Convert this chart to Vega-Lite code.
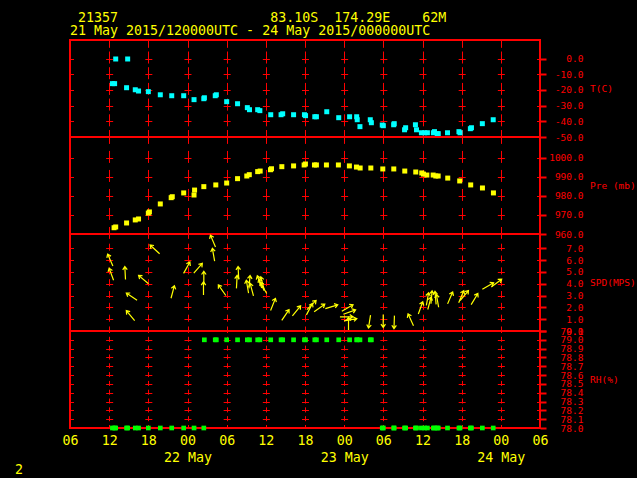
{
"$schema": "https://vega.github.io/schema/vega-lite/v6.json",
"background": "#000000",
"padding": {"left": 14, "top": 10, "right": 0, "bottom": 0},
"bounds": "flush",
"spacing": 0,
"datasets": {
"temp": [
{"t":"2015-05-21T13:00:00Z","T":-0.3,"rh":78},
{"t":"2015-05-21T14:50:00Z","T":-0.3,"rh":78},
{"t":"2015-05-21T12:30:00Z","T":-16.0,"rh":78},
{"t":"2015-05-21T12:50:00Z","T":-16.0,"rh":78},
{"t":"2015-05-21T14:40:00Z","T":-18.6,"rh":78},
{"t":"2015-05-21T16:00:00Z","T":-19.9,"rh":78},
{"t":"2015-05-21T16:30:00Z","T":-20.7,"rh":78},
{"t":"2015-05-21T18:00:00Z","T":-21.1,"rh":78},
{"t":"2015-05-21T19:50:00Z","T":-23.1,"rh":78},
{"t":"2015-05-21T21:35:00Z","T":-23.7,"rh":78},
{"t":"2015-05-21T23:25:00Z","T":-23.7,"rh":78},
{"t":"2015-05-22T01:00:00Z","T":-26.2,"rh":78},
{"t":"2015-05-22T02:30:00Z","T":-25.6,"rh":78},
{"t":"2015-05-22T02:35:00Z","T":-25.0,"rh":79},
{"t":"2015-05-22T04:15:00Z","T":-23.7,"rh":79},
{"t":"2015-05-22T04:25:00Z","T":-23.1,"rh":79},
{"t":"2015-05-22T06:00:00Z","T":-27.5,"rh":79},
{"t":"2015-05-22T07:40:00Z","T":-28.8,"rh":79},
{"t":"2015-05-22T09:10:00Z","T":-31.3,"rh":79},
{"t":"2015-05-22T09:30:00Z","T":-32.6,"rh":79},
{"t":"2015-05-22T10:45:00Z","T":-32.6,"rh":79},
{"t":"2015-05-22T11:05:00Z","T":-33.2,"rh":79},
{"t":"2015-05-22T12:45:00Z","T":-35.8,"rh":79},
{"t":"2015-05-22T14:20:00Z","T":-35.8,"rh":79},
{"t":"2015-05-22T14:35:00Z","T":-35.2,"rh":79},
{"t":"2015-05-22T16:15:00Z","T":-35.8,"rh":79},
{"t":"2015-05-22T17:55:00Z","T":-35.8,"rh":79},
{"t":"2015-05-22T18:05:00Z","T":-36.4,"rh":79},
{"t":"2015-05-22T19:30:00Z","T":-37.1,"rh":79},
{"t":"2015-05-22T19:45:00Z","T":-37.1,"rh":79},
{"t":"2015-05-22T21:20:00Z","T":-33.9,"rh":79},
{"t":"2015-05-22T23:10:00Z","T":-37.7,"rh":79},
{"t":"2015-05-23T00:50:00Z","T":-37.1,"rh":79},
{"t":"2015-05-23T01:55:00Z","T":-37.1,"rh":79},
{"t":"2015-05-23T02:00:00Z","T":-39.0,"rh":79},
{"t":"2015-05-23T02:25:00Z","T":-43.4,"rh":79},
{"t":"2015-05-23T04:00:00Z","T":-39.0,"rh":79},
{"t":"2015-05-23T04:10:00Z","T":-40.9,"rh":79},
{"t":"2015-05-23T05:50:00Z","T":-42.4,"rh":78},
{"t":"2015-05-23T06:00:00Z","T":-42.8,"rh":78},
{"t":"2015-05-23T07:35:00Z","T":-42.2,"rh":78},
{"t":"2015-05-23T07:40:00Z","T":-41.5,"rh":78},
{"t":"2015-05-23T09:15:00Z","T":-45.4,"rh":78},
{"t":"2015-05-23T09:25:00Z","T":-44.1,"rh":78},
{"t":"2015-05-23T10:55:00Z","T":-42.2,"rh":78},
{"t":"2015-05-23T11:05:00Z","T":-45.4,"rh":78},
{"t":"2015-05-23T11:50:00Z","T":-47.3,"rh":78},
{"t":"2015-05-23T12:20:00Z","T":-47.3,"rh":78},
{"t":"2015-05-23T12:45:00Z","T":-47.3,"rh":78},
{"t":"2015-05-23T13:40:00Z","T":-47.3,"rh":78},
{"t":"2015-05-23T13:50:00Z","T":-46.6,"rh":78},
{"t":"2015-05-23T14:15:00Z","T":-47.9,"rh":78},
{"t":"2015-05-23T14:25:00Z","T":-47.9,"rh":78},
{"t":"2015-05-23T15:50:00Z","T":-47.3,"rh":78},
{"t":"2015-05-23T17:35:00Z","T":-46.6,"rh":78},
{"t":"2015-05-23T17:45:00Z","T":-47.3,"rh":78},
{"t":"2015-05-23T19:20:00Z","T":-44.7,"rh":78},
{"t":"2015-05-23T19:30:00Z","T":-44.1,"rh":78},
{"t":"2015-05-23T21:10:00Z","T":-41.5,"rh":78},
{"t":"2015-05-23T22:50:00Z","T":-39.0,"rh":78}
],
"pres": [
{"t":"2015-05-21T12:45:00Z","P":963.3},
{"t":"2015-05-21T13:00:00Z","P":963.7},
{"t":"2015-05-21T14:40:00Z","P":965.8},
{"t":"2015-05-21T16:00:00Z","P":967.4},
{"t":"2015-05-21T16:30:00Z","P":967.9},
{"t":"2015-05-21T18:00:00Z","P":971.0},
{"t":"2015-05-21T18:10:00Z","P":971.6},
{"t":"2015-05-21T19:50:00Z","P":975.8},
{"t":"2015-05-21T21:30:00Z","P":979.1},
{"t":"2015-05-21T21:40:00Z","P":979.6},
{"t":"2015-05-21T23:25:00Z","P":981.6},
{"t":"2015-05-22T01:05:00Z","P":983.1},
{"t":"2015-05-22T01:00:00Z","P":980.5},
{"t":"2015-05-22T02:30:00Z","P":984.9},
{"t":"2015-05-22T04:20:00Z","P":985.8},
{"t":"2015-05-22T06:00:00Z","P":986.8},
{"t":"2015-05-22T07:40:00Z","P":989.1},
{"t":"2015-05-22T09:05:00Z","P":990.5},
{"t":"2015-05-22T09:28:00Z","P":991.2},
{"t":"2015-05-22T10:45:00Z","P":992.8},
{"t":"2015-05-22T11:08:00Z","P":993.1},
{"t":"2015-05-22T12:43:00Z","P":993.8},
{"t":"2015-05-22T12:52:00Z","P":994.3},
{"t":"2015-05-22T14:27:00Z","P":995.4},
{"t":"2015-05-22T16:15:00Z","P":995.8},
{"t":"2015-05-22T17:52:00Z","P":996.3},
{"t":"2015-05-22T18:04:00Z","P":996.8},
{"t":"2015-05-22T19:27:00Z","P":996.3},
{"t":"2015-05-22T19:45:00Z","P":996.3},
{"t":"2015-05-22T21:17:00Z","P":996.3},
{"t":"2015-05-22T23:07:00Z","P":996.3},
{"t":"2015-05-23T00:48:00Z","P":995.8},
{"t":"2015-05-23T01:53:00Z","P":995.2},
{"t":"2015-05-23T02:27:00Z","P":994.7},
{"t":"2015-05-23T04:05:00Z","P":994.7},
{"t":"2015-05-23T05:55:00Z","P":994.2},
{"t":"2015-05-23T07:36:00Z","P":994.2},
{"t":"2015-05-23T09:17:00Z","P":993.1},
{"t":"2015-05-23T10:58:00Z","P":992.6},
{"t":"2015-05-23T11:53:00Z","P":992.1},
{"t":"2015-05-23T12:09:00Z","P":991.5},
{"t":"2015-05-23T12:40:00Z","P":991.0},
{"t":"2015-05-23T13:38:00Z","P":991.0},
{"t":"2015-05-23T14:02:00Z","P":990.5},
{"t":"2015-05-23T14:24:00Z","P":990.5},
{"t":"2015-05-23T15:52:00Z","P":989.4},
{"t":"2015-05-23T17:42:00Z","P":987.9},
{"t":"2015-05-23T19:23:00Z","P":985.8},
{"t":"2015-05-23T21:11:00Z","P":984.2},
{"t":"2015-05-23T22:52:00Z","P":981.6}
],
"wind": [
{"t":"2015-05-21T12:10:00Z","spd":6.0,"dir":336},
{"t":"2015-05-21T12:20:00Z","spd":4.8,"dir":340},
{"t":"2015-05-21T14:27:00Z","spd":4.9,"dir":357},
{"t":"2015-05-21T15:27:00Z","spd":2.9,"dir":304},
{"t":"2015-05-21T15:16:00Z","spd":1.3,"dir":320},
{"t":"2015-05-21T17:16:00Z","spd":4.35,"dir":310},
{"t":"2015-05-21T19:00:00Z","spd":6.9,"dir":313},
{"t":"2015-05-21T21:44:00Z","spd":3.3,"dir":15},
{"t":"2015-05-21T23:53:00Z","spd":5.35,"dir":29},
{"t":"2015-05-22T01:37:00Z","spd":5.3,"dir":41},
{"t":"2015-05-22T02:30:00Z","spd":4.5,"dir":0},
{"t":"2015-05-22T02:27:00Z","spd":3.6,"dir":0},
{"t":"2015-05-22T03:54:00Z","spd":7.6,"dir":337},
{"t":"2015-05-22T03:59:00Z","spd":6.45,"dir":350},
{"t":"2015-05-22T05:18:00Z","spd":3.45,"dir":325},
{"t":"2015-05-22T07:48:00Z","spd":4.9,"dir":357},
{"t":"2015-05-22T07:33:00Z","spd":4.15,"dir":3},
{"t":"2015-05-22T09:11:00Z","spd":3.75,"dir":350},
{"t":"2015-05-22T09:51:00Z","spd":3.5,"dir":345},
{"t":"2015-05-22T09:30:00Z","spd":4.15,"dir":5},
{"t":"2015-05-22T11:02:00Z","spd":4.15,"dir":340},
{"t":"2015-05-22T11:20:00Z","spd":3.9,"dir":335},
{"t":"2015-05-22T11:38:00Z","spd":3.65,"dir":330},
{"t":"2015-05-22T11:29:00Z","spd":4.05,"dir":345},
{"t":"2015-05-22T13:06:00Z","spd":2.25,"dir":22},
{"t":"2015-05-22T15:00:00Z","spd":1.35,"dir":34},
{"t":"2015-05-22T16:42:00Z","spd":1.7,"dir":39},
{"t":"2015-05-22T18:41:00Z","spd":1.85,"dir":28},
{"t":"2015-05-22T19:00:00Z","spd":2.2,"dir":45},
{"t":"2015-05-22T20:13:00Z","spd":1.95,"dir":55},
{"t":"2015-05-22T22:04:00Z","spd":2.05,"dir":73},
{"t":"2015-05-23T00:30:00Z","spd":1.95,"dir":60},
{"t":"2015-05-23T00:49:00Z","spd":1.6,"dir":70},
{"t":"2015-05-23T00:21:00Z","spd":1.2,"dir":90},
{"t":"2015-05-23T00:58:00Z","spd":0.95,"dir":80},
{"t":"2015-05-23T00:40:00Z","spd":0.6,"dir":0},
{"t":"2015-05-23T03:53:00Z","spd":0.8,"dir":189},
{"t":"2015-05-23T05:59:00Z","spd":0.85,"dir":180},
{"t":"2015-05-23T07:40:00Z","spd":0.75,"dir":182},
{"t":"2015-05-23T10:12:00Z","spd":0.95,"dir":335},
{"t":"2015-05-23T11:42:00Z","spd":1.95,"dir":20},
{"t":"2015-05-23T12:46:00Z","spd":2.7,"dir":10},
{"t":"2015-05-23T13:23:00Z","spd":2.85,"dir":5},
{"t":"2015-05-23T14:00:00Z","spd":2.8,"dir":355},
{"t":"2015-05-23T13:04:00Z","spd":2.35,"dir":15},
{"t":"2015-05-23T14:18:00Z","spd":2.55,"dir":350},
{"t":"2015-05-23T16:14:00Z","spd":2.8,"dir":23},
{"t":"2015-05-23T17:56:00Z","spd":2.9,"dir":23},
{"t":"2015-05-23T18:24:00Z","spd":3.0,"dir":40},
{"t":"2015-05-23T19:58:00Z","spd":2.7,"dir":31},
{"t":"2015-05-23T22:02:00Z","spd":3.8,"dir":60},
{"t":"2015-05-23T23:20:00Z","spd":4.05,"dir":53}
]
},
"config": {
"view": {"stroke": "#FF0000", "strokeWidth": 2},
"axis": {"labelFont": "DejaVu Sans Mono", "titleFont": "DejaVu Sans Mono", "labelColor": "#FF0000", "titleColor": "#FF0000", "tickColor": "#FF0000", "gridColor": "#FF0000", "gridOpacity": 1, "gridWidth": 1, "labelFontSize": 9.5, "titleFontSize": 9.5, "titleFontWeight": "normal", "labelOverlap": false, "labelFlush": false}
},
"vconcat": [
{
"width": 470, "height": 97,
"title": {"text": ["\u200b\u00a021357\u00a0\u00a0\u00a0\u00a0\u00a0\u00a0\u00a0\u00a0\u00a0\u00a0\u00a0\u00a0\u00a0\u00a0\u00a0\u00a0\u00a0\u00a0\u00a083.10S\u00a0\u00a0174.29E\u00a0\u00a0\u00a0\u00a062M", "21 May 2015/120000UTC - 24 May 2015/000000UTC"], "anchor": "start", "frame": "group", "orient": "top", "baseline": "bottom", "offset": -11, "font": "DejaVu Sans Mono", "fontSize": 13.3, "fontWeight": "normal", "color": "#FFFF00", "lineHeight": 12.5},
"data": {"name": "temp"},
"mark": {"type": "square", "size": 25, "color": "#00FFFF", "opacity": 1},
"encoding": {
"x": {"field": "t", "type": "temporal", "scale": {"type": "utc", "domain": [{"year":2015,"month":5,"date":21,"hours":6,"utc":true},{"year":2015,"month":5,"date":24,"hours":6,"utc":true}]},
"axis": {"values": [{"year":2015,"month":5,"date":21,"hours":6,"utc":true},{"year":2015,"month":5,"date":21,"hours":12,"utc":true},{"year":2015,"month":5,"date":21,"hours":18,"utc":true},{"year":2015,"month":5,"date":22,"hours":0,"utc":true},{"year":2015,"month":5,"date":22,"hours":6,"utc":true},{"year":2015,"month":5,"date":22,"hours":12,"utc":true},{"year":2015,"month":5,"date":22,"hours":18,"utc":true},{"year":2015,"month":5,"date":23,"hours":0,"utc":true},{"year":2015,"month":5,"date":23,"hours":6,"utc":true},{"year":2015,"month":5,"date":23,"hours":12,"utc":true},{"year":2015,"month":5,"date":23,"hours":18,"utc":true},{"year":2015,"month":5,"date":24,"hours":0,"utc":true},{"year":2015,"month":5,"date":24,"hours":6,"utc":true}], "labels": false, "ticks": false, "domain": false, "grid": true, "gridDash": [12, 3.696], "gridDashOffset": 4.676, "title": null}},
"y": {"field": "T", "type": "quantitative", "scale": {"domain": [-50, 11.8], "nice": false, "zero": false},
"axis": {"orient": "right", "values": [-50,-40,-30,-20,-10,0], "grid": true, "gridDash": [3.5, 32.167, 3.5, 0], "domain": false, "tickSize": 6, "tickWidth": 2, "labelAlign": "right", "labelBaseline": "middle", "labelPadding": 37, "labelExpr": "(datum.value < 0 ? '-' : '') + format(abs(datum.value), '.1f')", "title": "T(C)", "titleAngle": 0, "titleAlign": "left", "titleBaseline": "middle", "titleX": 49.5, "titleY": 48.5}}
}
},
{
"width": 470, "height": 97,
"data": {"name": "pres"},
"mark": {"type": "square", "size": 25, "color": "#FFFF00", "opacity": 1},
"encoding": {
"x": {"field": "t", "type": "temporal", "scale": {"type": "utc", "domain": [{"year":2015,"month":5,"date":21,"hours":6,"utc":true},{"year":2015,"month":5,"date":24,"hours":6,"utc":true}]},
"axis": {"values": [{"year":2015,"month":5,"date":21,"hours":6,"utc":true},{"year":2015,"month":5,"date":21,"hours":12,"utc":true},{"year":2015,"month":5,"date":21,"hours":18,"utc":true},{"year":2015,"month":5,"date":22,"hours":0,"utc":true},{"year":2015,"month":5,"date":22,"hours":6,"utc":true},{"year":2015,"month":5,"date":22,"hours":12,"utc":true},{"year":2015,"month":5,"date":22,"hours":18,"utc":true},{"year":2015,"month":5,"date":23,"hours":0,"utc":true},{"year":2015,"month":5,"date":23,"hours":6,"utc":true},{"year":2015,"month":5,"date":23,"hours":12,"utc":true},{"year":2015,"month":5,"date":23,"hours":18,"utc":true},{"year":2015,"month":5,"date":24,"hours":0,"utc":true},{"year":2015,"month":5,"date":24,"hours":6,"utc":true}], "labels": false, "ticks": false, "domain": false, "grid": true, "gridDash": [12, 7.02], "gridDashOffset": 5.6, "title": null}},
"y": {"field": "P", "type": "quantitative", "scale": {"domain": [960, 1011], "nice": false, "zero": false},
"axis": {"orient": "right", "values": [960,970,980,990,1000], "grid": true, "gridDash": [3.5, 32.167, 3.5, 0], "domain": false, "tickSize": 6, "tickWidth": 2, "labelAlign": "right", "labelBaseline": "middle", "labelPadding": 37, "labelExpr": "format(datum.value, '.1f')", "title": "Pre (mb)", "titleAngle": 0, "titleAlign": "left", "titleBaseline": "middle", "titleX": 49.5, "titleY": 48.5}}
}
},
{
"width": 470, "height": 97,
"data": {"name": "wind"},
"mark": {"type": "point", "shape": "M0,1L0,-1M-0.35,-0.5L0,-1L0.35,-0.5", "size": 169, "filled": false, "color": "#FFFF00", "strokeWidth": 1.2, "opacity": 1},
"encoding": {
"x": {"field": "t", "type": "temporal", "scale": {"type": "utc", "domain": [{"year":2015,"month":5,"date":21,"hours":6,"utc":true},{"year":2015,"month":5,"date":24,"hours":6,"utc":true}]},
"axis": {"values": [{"year":2015,"month":5,"date":21,"hours":6,"utc":true},{"year":2015,"month":5,"date":21,"hours":12,"utc":true},{"year":2015,"month":5,"date":21,"hours":18,"utc":true},{"year":2015,"month":5,"date":22,"hours":0,"utc":true},{"year":2015,"month":5,"date":22,"hours":6,"utc":true},{"year":2015,"month":5,"date":22,"hours":12,"utc":true},{"year":2015,"month":5,"date":22,"hours":18,"utc":true},{"year":2015,"month":5,"date":23,"hours":0,"utc":true},{"year":2015,"month":5,"date":23,"hours":6,"utc":true},{"year":2015,"month":5,"date":23,"hours":12,"utc":true},{"year":2015,"month":5,"date":23,"hours":18,"utc":true},{"year":2015,"month":5,"date":24,"hours":0,"utc":true},{"year":2015,"month":5,"date":24,"hours":6,"utc":true}], "labels": false, "ticks": false, "domain": false, "grid": true, "gridDash": [7, 4.83], "gridDashOffset": 2.63, "title": null}},
"y": {"field": "spd", "type": "quantitative", "scale": {"domain": [0, 8.2], "nice": false, "zero": false},
"axis": {"orient": "right", "values": [0,1,2,3,4,5,6,7], "grid": true, "gridDash": [3.5, 32.167, 3.5, 0], "domain": false, "tickSize": 6, "tickWidth": 2, "labelAlign": "right", "labelBaseline": "middle", "labelPadding": 37, "labelExpr": "format(datum.value, '.1f')", "title": "SPD(MPS)", "titleAngle": 0, "titleAlign": "left", "titleBaseline": "middle", "titleX": 49.5, "titleY": 48.5}},
"angle": {"field": "dir", "type": "quantitative", "scale": {"domain": [0, 360], "range": [0, 360]}, "legend": null}
}
},
{
"width": 470, "height": 97,
"title": {"text": "2", "orient": "bottom", "anchor": "start", "frame": "group", "dx": -55, "offset": 0, "baseline": "top", "font": "DejaVu Sans Mono", "fontSize": 13.3, "fontWeight": "normal", "color": "#FFFF00"},
"data": {"name": "temp"},
"mark": {"type": "square", "size": 22, "color": "#00FF00", "opacity": 1},
"encoding": {
"x": {"field": "t", "type": "temporal", "scale": {"type": "utc", "domain": [{"year":2015,"month":5,"date":21,"hours":6,"utc":true},{"year":2015,"month":5,"date":24,"hours":6,"utc":true}]},
"axis": {"values": [{"year":2015,"month":5,"date":21,"hours":6,"utc":true},{"year":2015,"month":5,"date":21,"hours":12,"utc":true},{"year":2015,"month":5,"date":21,"hours":18,"utc":true},{"year":2015,"month":5,"date":22,"hours":0,"utc":true},{"year":2015,"month":5,"date":22,"hours":6,"utc":true},{"year":2015,"month":5,"date":22,"hours":12,"utc":true},{"year":2015,"month":5,"date":22,"hours":18,"utc":true},{"year":2015,"month":5,"date":23,"hours":0,"utc":true},{"year":2015,"month":5,"date":23,"hours":6,"utc":true},{"year":2015,"month":5,"date":23,"hours":12,"utc":true},{"year":2015,"month":5,"date":23,"hours":18,"utc":true},{"year":2015,"month":5,"date":24,"hours":0,"utc":true},{"year":2015,"month":5,"date":24,"hours":6,"utc":true}], "labels": true, "ticks": false, "domain": false, "grid": true, "gridDash": [5, 3.818], "gridDashOffset": 3.5, "title": null, "labelColor": "#FFFF00", "labelFontSize": 13.3, "labelPadding": 5, "labelLineHeight": 17, "labelBaseline": "top", "labelAlign": "center", "labelExpr": "utcFormat(datum.value, '%H') == '00' ? ['00', utcFormat(datum.value, '%d %b')] : utcFormat(datum.value, '%H')"}},
"y": {"field": "rh", "type": "quantitative", "scale": {"domain": [78, 79.1], "nice": false, "zero": false},
"axis": {"orient": "right", "values": [78.0,78.1,78.2,78.3,78.4,78.5,78.6,78.7,78.8,78.9,79.0,79.1], "grid": true, "gridDash": [3.5, 32.167, 3.5, 0], "domain": false, "tickSize": 6, "tickWidth": 2, "labelAlign": "right", "labelBaseline": "middle", "labelPadding": 37, "labelExpr": "format(datum.value, '.1f')", "title": "RH(%)", "titleAngle": 0, "titleAlign": "left", "titleBaseline": "middle", "titleX": 49.5, "titleY": 48.5}}
}
}
]
}
